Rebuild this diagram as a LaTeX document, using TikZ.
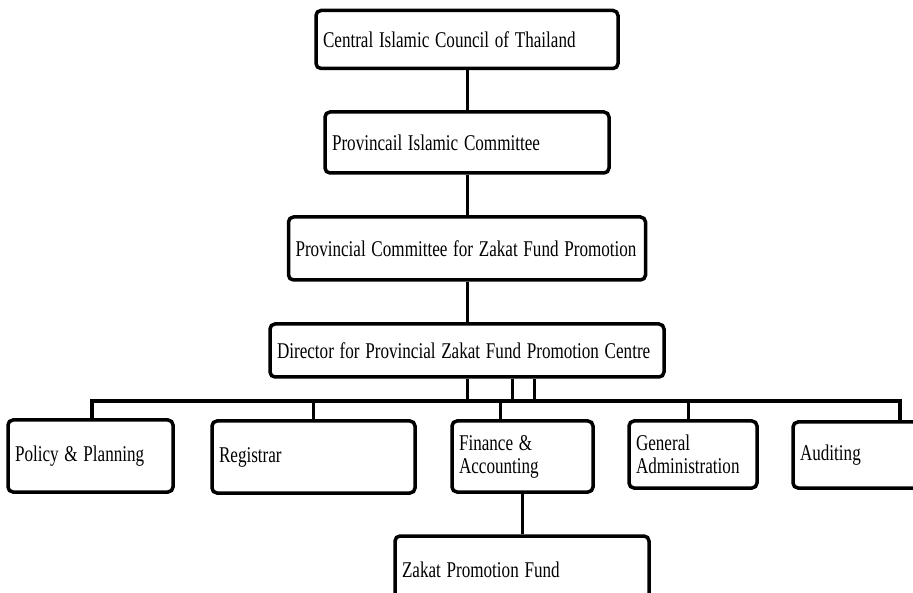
\documentclass[tikz,border=0pt]{standalone}
\usepackage{fontspec}
\setmainfont{Liberation Serif}
\newcommand\cond[1]{\scalebox{0.76}[1]{#1}}
\begin{document}
\begin{tikzpicture}[x=1pt, y=-1pt,
  every node/.style={font=\fontsize{22.5}{23}\selectfont},
  unit/.style={draw, line width=3.5pt, rounded corners=5pt, align=left, inner xsep=7pt, inner ysep=0pt},
  link/.style={line width=3pt},
  bus/.style={line width=3.8pt}]
\useasboundingbox (0,0) rectangle (913,593);
\node[unit, text width=288pt, minimum height=58pt] (cicot) at (467,39.5) {\cond{Central Islamic Council of Thailand}};
\node[unit, text width=270pt, minimum height=61pt] (pic) at (467,142.5) {\cond{Provincail Islamic Committee}};
\node[unit, text width=343pt, minimum height=63pt] (pczf) at (467,248.5) {\cond{Provincial Committee for Zakat Fund Promotion}};
\node[unit, text width=380pt, minimum height=53pt] (dir) at (467,350.5) {\cond{Director for Provincial Zakat Fund Promotion Centre}};
\node[unit, text width=151pt, minimum height=72pt] (policy) at (90.5,456) {\cond{Policy \& Planning}};
\node[unit, text width=189pt, minimum height=72pt] (reg) at (313.5,457) {\cond{Registrar}};
\node[unit, text width=127pt, minimum height=71pt] (fin) at (522.5,456.5) {\cond{Finance \&}\\\cond{Accounting}};
\node[unit, text width=114pt, minimum height=67pt] (gen) at (693,454.5) {\cond{General}\\\cond{Administration}};
\node[unit, text width=123pt, minimum height=66pt] (aud) at (861.5,455) {\cond{Auditing}};
\node[unit, text width=240pt, minimum height=68pt] (zpf) at (522,570) {\cond{Zakat Promotion Fund}};
\draw[link] (cicot) -- (pic);
\draw[link] (pic) -- (pczf);
\draw[link] (pczf) -- (dir);
\coordinate (busL) at (92,401);
\coordinate (busR) at (900,401);
\draw[bus] (busL |- policy.north) -- (busL) -- (busR) -- (busR |- aud.north);
\foreach \x [count=\i] in {467,512,534} {
  \coordinate (up\i) at (\x,401);
  \draw[link] (up\i) -- (up\i |- dir.south);
}
\foreach \x/\n in {313/reg,500/fin,688/gen} {
  \coordinate (dn-\n) at (\x,401);
  \draw[link] (dn-\n) -- (dn-\n |- \n.north);
}
\draw[link] (fin) -- (fin |- zpf.north);
\end{tikzpicture}
\end{document}
